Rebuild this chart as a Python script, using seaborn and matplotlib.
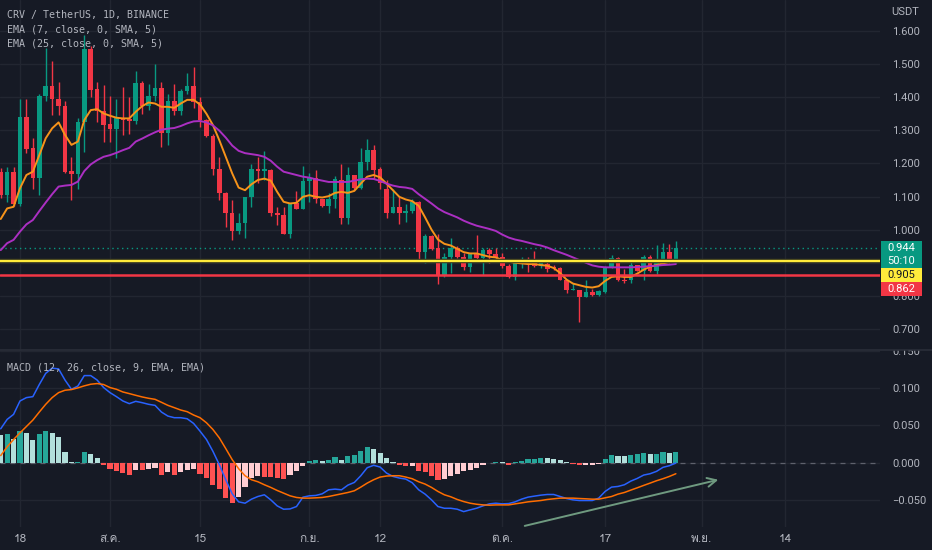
import matplotlib
matplotlib.use('Agg')
import matplotlib.pyplot as plt
from matplotlib import font_manager
from matplotlib.ft2font import FT2Font
from matplotlib.patches import Rectangle
from matplotlib.lines import Line2D
from matplotlib.transforms import IdentityTransform
import numpy as np
import pandas as pd
import seaborn as sns

# ---- data ---------------------------------------------------------------
START = '2022-07-15'

opens = [1.173, 1.106, 1.175, 1.076, 1.341, 1.247, 1.155, 1.404, 1.435, 1.396,
         1.374, 1.177, 1.167, 1.324, 1.547, 1.424, 1.358, 1.318, 1.304, 1.336,
         1.334, 1.328, 1.443, 1.373, 1.404, 1.428, 1.292, 1.389, 1.359, 1.420,
         1.434, 1.386, 1.331, 1.283, 1.182, 1.111, 1.049, 0.996, 1.021, 1.099,
         1.182, 1.177, 1.180, 1.051, 1.045, 0.988, 1.079, 1.061, 1.148, 1.155,
         1.094, 1.072, 1.091, 1.151, 1.036, 1.165, 1.126, 1.205, 1.242, 1.182,
         1.124, 1.051, 1.069, 1.051, 1.057, 1.084, 0.933, 0.980, 0.943, 0.862,
         0.916, 0.943, 0.918, 0.886, 0.928, 0.913, 0.938, 0.926, 0.916, 0.890,
         0.857, 0.898, 0.910, 0.906, 0.890, 0.896, 0.888, 0.883, 0.849, 0.817,
         0.819, 0.797, 0.812, 0.802, 0.812, 0.888, 0.913, 0.849, 0.849, 0.893,
         0.875, 0.918, 0.875, 0.904, 0.933, 0.904]
highs = [1.185, 1.190, 1.190, 1.394, 1.394, 1.277, 1.410, 1.550, 1.509, 1.447,
         1.390, 1.220, 1.336, 1.588, 1.555, 1.447, 1.436, 1.405, 1.395, 1.430,
         1.400, 1.479, 1.450, 1.440, 1.500, 1.445, 1.410, 1.440, 1.425, 1.472,
         1.492, 1.400, 1.333, 1.290, 1.220, 1.115, 1.090, 1.049, 1.099, 1.198,
         1.220, 1.238, 1.182, 1.067, 1.067, 1.079, 1.116, 1.192, 1.170, 1.180,
         1.094, 1.110, 1.161, 1.199, 1.190, 1.165, 1.248, 1.275, 1.255, 1.190,
         1.149, 1.124, 1.098, 1.077, 1.092, 1.086, 0.988, 0.983, 0.987, 0.928,
         0.976, 0.950, 0.930, 0.930, 0.983, 0.945, 0.944, 0.943, 0.928, 0.896,
         0.903, 0.916, 0.916, 0.936, 0.908, 0.910, 0.893, 0.888, 0.849, 0.840,
         0.819, 0.847, 0.820, 0.817, 0.890, 0.923, 0.916, 0.882, 0.906, 0.893,
         0.923, 0.923, 0.953, 0.960, 0.958, 0.967]
lows = [1.095, 1.084, 1.070, 1.070, 1.230, 1.124, 1.104, 1.390, 1.346, 1.346,
        1.170, 1.089, 1.122, 1.235, 1.400, 1.325, 1.265, 1.265, 1.215, 1.285,
        1.290, 1.320, 1.350, 1.360, 1.390, 1.250, 1.256, 1.345, 1.345, 1.410,
        1.366, 1.310, 1.280, 1.165, 1.089, 1.009, 0.968, 0.986, 0.974, 1.067,
        1.140, 1.150, 1.041, 1.015, 0.986, 0.974, 1.061, 1.061, 1.082, 1.079,
        1.069, 1.050, 1.064, 1.018, 1.016, 1.119, 1.124, 1.180, 1.152, 1.124,
        1.034, 1.049, 1.018, 1.022, 1.050, 0.903, 0.900, 0.938, 0.835, 0.857,
        0.868, 0.913, 0.878, 0.872, 0.904, 0.864, 0.898, 0.906, 0.883, 0.855,
        0.847, 0.885, 0.873, 0.888, 0.883, 0.873, 0.878, 0.847, 0.809, 0.817,
        0.720, 0.795, 0.799, 0.799, 0.809, 0.883, 0.845, 0.839, 0.839, 0.874,
        0.849, 0.872, 0.867, 0.900, 0.900, 0.898]
closes = [1.106, 1.175, 1.076, 1.341, 1.245, 1.155, 1.404, 1.435, 1.396, 1.374,
          1.175, 1.167, 1.324, 1.547, 1.421, 1.358, 1.316, 1.304, 1.336, 1.331,
          1.328, 1.443, 1.373, 1.404, 1.428, 1.292, 1.389, 1.359, 1.420, 1.434,
          1.386, 1.331, 1.283, 1.182, 1.111, 1.049, 0.996, 1.021, 1.099, 1.182,
          1.177, 1.182, 1.051, 1.045, 0.988, 1.079, 1.061, 1.148, 1.155, 1.094,
          1.072, 1.091, 1.153, 1.036, 1.165, 1.126, 1.205, 1.242, 1.180, 1.141,
          1.051, 1.069, 1.051, 1.057, 1.084, 0.933, 0.980, 0.940, 0.862, 0.916,
          0.943, 0.918, 0.886, 0.928, 0.913, 0.938, 0.926, 0.916, 0.890, 0.857,
          0.898, 0.910, 0.902, 0.890, 0.898, 0.882, 0.883, 0.849, 0.817, 0.820,
          0.797, 0.812, 0.802, 0.815, 0.888, 0.913, 0.847, 0.845, 0.893, 0.875,
          0.918, 0.875, 0.906, 0.933, 0.904, 0.944]

ema7 = [1.032, 1.064, 1.069, 1.125, 1.165, 1.175, 1.225, 1.276, 1.306, 1.324,
        1.286, 1.256, 1.266, 1.331, 1.361, 1.364, 1.351, 1.344, 1.338, 1.336,
        1.336, 1.356, 1.373, 1.384, 1.381, 1.371, 1.371, 1.368, 1.381, 1.392,
        1.392, 1.378, 1.350, 1.316, 1.270, 1.220, 1.170, 1.127, 1.119, 1.137,
        1.150, 1.154, 1.148, 1.114, 1.084, 1.079, 1.081, 1.099, 1.104, 1.099,
        1.097, 1.101, 1.111, 1.114, 1.111, 1.117, 1.139, 1.160, 1.165, 1.158,
        1.139, 1.119, 1.099, 1.091, 1.086, 1.072, 1.037, 1.000, 0.970, 0.957,
        0.952, 0.942, 0.932, 0.928, 0.928, 0.923, 0.918, 0.916, 0.908, 0.903,
        0.900, 0.898, 0.896, 0.896, 0.893, 0.891, 0.884, 0.869, 0.849, 0.837,
        0.832, 0.827, 0.825, 0.829, 0.845, 0.857, 0.859, 0.857, 0.857, 0.867,
        0.879, 0.888, 0.893, 0.898, 0.902, 0.906]
ema25 = [0.938, 0.959, 0.969, 0.994, 1.016, 1.029, 1.056, 1.082, 1.107, 1.130,
         1.133, 1.135, 1.145, 1.177, 1.197, 1.210, 1.220, 1.225, 1.232, 1.240,
         1.247, 1.266, 1.275, 1.285, 1.294, 1.302, 1.305, 1.307, 1.313, 1.321,
         1.327, 1.328, 1.324, 1.315, 1.299, 1.278, 1.254, 1.238, 1.231, 1.228,
         1.225, 1.220, 1.208, 1.190, 1.175, 1.170, 1.165, 1.160, 1.157, 1.152,
         1.148, 1.144, 1.144, 1.144, 1.144, 1.148, 1.152, 1.154, 1.153, 1.147,
         1.139, 1.133, 1.129, 1.127, 1.123, 1.107, 1.093, 1.079, 1.064, 1.053,
         1.045, 1.037, 1.027, 1.019, 1.012, 1.007, 1.002, 0.996, 0.985, 0.976,
         0.970, 0.966, 0.961, 0.956, 0.952, 0.946, 0.938, 0.931, 0.924, 0.916,
         0.908, 0.900, 0.892, 0.888, 0.886, 0.886, 0.886, 0.886, 0.886, 0.887,
         0.888, 0.890, 0.891, 0.893, 0.894, 0.896]

macd = [0.0455, 0.0581, 0.0649, 0.0829, 0.0874, 0.0887, 0.1050, 0.1200, 0.1270, 0.1260,
        0.1110, 0.0986, 0.1030, 0.1170, 0.1170, 0.1110, 0.1010, 0.0941, 0.0887, 0.0829,
        0.0793, 0.0824, 0.0806, 0.0784, 0.0770, 0.0680, 0.0626, 0.0604, 0.0604, 0.0590,
        0.0527, 0.0423, 0.0311, 0.0153, -0.0027, -0.0230, -0.0419, -0.0527, -0.0545, -0.0491,
        -0.0455, -0.0432, -0.0500, -0.0581, -0.0626, -0.0622, -0.0590, -0.0464, -0.0446, -0.0441,
        -0.0419, -0.0365, -0.0356, -0.0365, -0.0302, -0.0266, -0.0176, -0.0068, -0.0036, -0.0059,
        -0.0140, -0.0185, -0.0207, -0.0221, -0.0270, -0.0365, -0.0423, -0.0500, -0.0590, -0.0613,
        -0.0613, -0.0626, -0.0658, -0.0635, -0.0613, -0.0581, -0.0554, -0.0545, -0.0554, -0.0550,
        -0.0527, -0.0491, -0.0464, -0.0450, -0.0437, -0.0428, -0.0428, -0.0455, -0.0482, -0.0500,
        -0.0509, -0.0509, -0.0509, -0.0477, -0.0387, -0.0329, -0.0320, -0.0297, -0.0248, -0.0212,
        -0.0167, -0.0149, -0.0117, -0.0063, -0.0041, -0.0005]
signal = [0.0095, 0.0212, 0.0311, 0.0401, 0.0486, 0.0572, 0.0680, 0.0784, 0.0874, 0.0941,
          0.0973, 0.0982, 0.1005, 0.1032, 0.1054, 0.1063, 0.1050, 0.1009, 0.0986, 0.0950,
          0.0928, 0.0905, 0.0883, 0.0865, 0.0851, 0.0811, 0.0770, 0.0739, 0.0707, 0.0685,
          0.0640, 0.0604, 0.0536, 0.0446, 0.0333, 0.0189, 0.0041, -0.0081, -0.0176, -0.0230,
          -0.0257, -0.0297, -0.0333, -0.0374, -0.0410, -0.0446, -0.0468, -0.0477, -0.0477, -0.0473,
          -0.0468, -0.0455, -0.0437, -0.0419, -0.0401, -0.0378, -0.0329, -0.0275, -0.0230, -0.0194,
          -0.0180, -0.0176, -0.0176, -0.0194, -0.0216, -0.0257, -0.0288, -0.0333, -0.0387, -0.0432,
          -0.0459, -0.0495, -0.0523, -0.0545, -0.0559, -0.0568, -0.0572, -0.0568, -0.0568, -0.0568,
          -0.0554, -0.0541, -0.0527, -0.0518, -0.0509, -0.0495, -0.0486, -0.0477, -0.0477, -0.0477,
          -0.0482, -0.0486, -0.0491, -0.0491, -0.0473, -0.0455, -0.0423, -0.0401, -0.0369, -0.0338,
          -0.0306, -0.0275, -0.0243, -0.0216, -0.0185, -0.0149]
hist = [0.0365, 0.0387, 0.0320, 0.0419, 0.0401, 0.0302, 0.0387, 0.0428, 0.0401, 0.0338,
        0.0149, 0.0009, 0.0014, 0.0149, 0.0122, 0.0063, -0.0027, -0.0086, -0.0117, -0.0140,
        -0.0162, -0.0095, -0.0104, -0.0086, -0.0072, -0.0162, -0.0130, -0.0162, -0.0130, -0.0095,
        -0.0086, -0.0149, -0.0207, -0.0297, -0.0356, -0.0477, -0.0545, -0.0460, -0.0330, -0.0210,
        -0.0180, -0.0190, -0.0194, -0.0207, -0.0221, -0.0162, -0.0117, -0.0050, 0.0027, 0.0030,
        0.0023, 0.0032, 0.0077, 0.0040, 0.0095, 0.0097, 0.0153, 0.0207, 0.0185, 0.0131,
        0.0059, 0.0014, -0.0027, -0.0050, -0.0040, -0.0113, -0.0131, -0.0176, -0.0230, -0.0221,
        -0.0185, -0.0149, -0.0117, -0.0095, -0.0072, -0.0027, -0.0005, 0.0014, 0.0005, -0.0027,
        0.0009, 0.0027, 0.0050, 0.0052, 0.0063, 0.0059, 0.0054, 0.0032, 0.0005, -0.0014,
        -0.0032, -0.0030, -0.0027, -0.0014, 0.0050, 0.0104, 0.0095, 0.0090, 0.0108, 0.0110,
        0.0130, 0.0117, 0.0122, 0.0140, 0.0130, 0.0144]

support_level = 0.862
resist_level = 0.905
countdown = '50:10'

tick_dates = ['2022-07-18', '2022-08-01', '2022-08-15', '2022-09-01', '2022-09-12',
              '2022-10-01', '2022-10-17', '2022-11-01', '2022-11-14']
tick_labels = ['18', 'ส.ค.', '15', 'ก.ย.', '12', 'ต.ค.', '17', 'พ.ย.', '14']
price_ticks = [0.7, 0.8, 0.9, 1.0, 1.1, 1.2, 1.3, 1.4, 1.5, 1.6]
macd_ticks = [-0.05, 0.0, 0.05, 0.10, 0.15]

# ---- style ---------------------------------------------------------------
BG = '#161a25'
GRID = '#222631'
TXT = '#b2b5be'
UP = '#089981'
DOWN = '#f23645'
W, H = 932, 550


def thai_font():
    for f in font_manager.fontManager.ttflist:
        try:
            if 0x0E2A in FT2Font(f.fname).get_charmap():
                return f.name
        except Exception:
            pass
    return None


sns.set_theme(style='dark', rc={'axes.facecolor': BG, 'figure.facecolor': BG,
                                'savefig.facecolor': BG, 'grid.color': GRID})
plt.rcParams['font.family'] = ['Roboto', 'DejaVu Sans']
th = thai_font()
date_family = ([th] if th else []) + ['DejaVu Sans Mono']
mono = 'DejaVu Sans Mono'

df = pd.DataFrame({'open': opens, 'high': highs, 'low': lows, 'close': closes,
                   'ema7': ema7, 'ema25': ema25,
                   'macd': macd, 'signal': signal, 'hist': hist})
t0 = pd.Timestamp(START)
df['day'] = np.arange(len(df))
tick_days = [(pd.Timestamp(t) - t0).days for t in tick_dates]

fig = plt.figure(figsize=(W / 100, H / 100), dpi=100)
ax = fig.add_axes([0, 200 / H, 880 / W, 350 / H])
ax2 = fig.add_axes([0, 23 / H, 880 / W, 177 / H])

for a in (ax, ax2):
    a.set_facecolor(BG)
    for s in a.spines.values():
        s.set_visible(False)
    a.set_xlim(-0.11, 136.75)
    a.set_xticks(tick_days)
    a.grid(True, color=GRID, lw=1)
    a.set_axisbelow(True)
    a.yaxis.tick_right()
    a.tick_params(length=0, colors=TXT, labelsize=8)

# ---- price pane ------------------------------------------------------------
ax.set_ylim(0.6363, 1.6937)
up = df['close'] >= df['open']
cols = np.where(up, UP, DOWN)
ax.vlines(df['day'], df['low'], df['high'], colors=cols, lw=1, zorder=2)
body = (df['close'] - df['open']).abs().clip(lower=0.003)
ax.bar(df['day'], body, bottom=df[['open', 'close']].min(axis=1),
       width=0.72, color=cols, linewidth=0, zorder=3)

sns.lineplot(data=df, x='day', y='ema7', ax=ax, color='#f7931a', lw=1.4, zorder=4)
sns.lineplot(data=df, x='day', y='ema25', ax=ax, color='#ab2fc2', lw=1.4, zorder=4)

last = df['close'].iloc[-1]
ax.axhline(last, color=UP, lw=1, ls=(0, (1, 2.5)), zorder=1)
ax.axhline(resist_level, color='#3a3a1e', lw=3.2, zorder=4)
ax.axhline(resist_level, color='#ffeb3b', lw=1.6, zorder=5)
ax.axhline(support_level, color=DOWN, lw=1.8, zorder=5)

# the 0.900 label sits fully under the last-price tag, so it is left blank
ax.set_yticks(price_ticks)
ax.set_yticklabels(['' if abs(v - 0.9) < 1e-9 else f'{v:.3f}' for v in price_ticks])
ax.tick_params(axis='y', pad=9)
ax.set_xticklabels([])
ax.set_xlabel('')
ax.set_ylabel('')

# ---- MACD pane ---------------------------------------------------------------
ax2.set_ylim(-0.0865, 0.1514)
prev = np.r_[df['hist'].iloc[0] + 1, df['hist'].values[:-1]]
h = df['hist'].values
hcols = np.where(h >= 0, np.where(h > prev, '#26a69a', '#b2dfdb'),
                 np.where(h < prev, '#ff5252', '#ffcdd2'))
ax2.axhline(0, color='#787b86', lw=0.9, ls=(0, (4, 4)), alpha=0.7, zorder=1)
ax2.bar(df['day'], h, width=0.8, color=hcols, linewidth=0, zorder=2)
sns.lineplot(data=df, x='day', y='macd', ax=ax2, color='#2962ff', lw=1.1, zorder=3)
sns.lineplot(data=df, x='day', y='signal', ax=ax2, color='#ff6d00', lw=1.1, zorder=3)

ax2.annotate('', xy=(111.6, -0.023), xytext=(81.5, -0.085), annotation_clip=False,
             arrowprops=dict(arrowstyle='->', color='#6f9a80', lw=1.4,
                             mutation_scale=16, shrinkA=0, shrinkB=0), zorder=6)

ax2.set_yticks(macd_ticks)
ax2.set_yticklabels([f'{v:.3f}'.replace('-', '\u2212') for v in macd_ticks])
ax2.tick_params(axis='y', pad=9)
ax2.set_xticklabels(tick_labels, family=date_family, fontsize=8.5)
ax2.tick_params(axis='x', pad=5)
ax2.set_xlabel('')
ax2.set_ylabel('')

# ---- overlays in pixel space ------------------------------------------------
fig.add_artist(Rectangle((880, 200), 52, 9, transform=IdentityTransform(),
                         facecolor=BG, edgecolor='none', zorder=8))
fig.add_artist(Line2D([0, 1], [200.5 / H, 200.5 / H], color='#2a2e39', lw=1.2,
                      transform=fig.transFigure, zorder=9))


def ypix(a, v):
    return a.transData.transform((0, v))[1]


# price tags on the scale (stacked so they do not overlap)
boxes = [(last, UP, 'white', 27, [f'{last:.3f}', countdown]),
         (resist_level, '#ffeb3b', '#131722', 14, [f'{resist_level:.3f}']),
         (support_level, DOWN, 'white', 14, [f'{support_level:.3f}'])]
top = None
for val, fc, tc, hgt, lines in boxes:
    yt = ypix(ax, val) + 7
    if top is not None:
        yt = min(yt, top)
    fig.add_artist(Rectangle((881, yt - hgt), 41, hgt, transform=IdentityTransform(),
                             facecolor=fc, edgecolor='none', zorder=10))
    for i, s in enumerate(lines):
        fig.text(901.5 / W, (yt - 7 - 13 * i) / H, s, color=tc, fontsize=8,
                 ha='center', va='center', zorder=11)
    top = yt - hgt

fig.text(905 / W, 1 - 12 / H, 'USDT', color=TXT, fontsize=8, ha='center', va='center')
legend_lines = ['CRV / TetherUS, 1D, BINANCE', 'EMA (7, close, 0, SMA, 5)',
                'EMA (25, close, 0, SMA, 5)']
for i, s in enumerate(legend_lines):
    fig.text(7 / W, 1 - (15 + 14 * i) / H, s, color=TXT, fontsize=7.2,
             family=mono, va='center')
fig.text(7 / W, 1 - 367 / H, 'MACD (12, 26, close, 9, EMA, EMA)', color=TXT,
         fontsize=7.2, family=mono, va='center')

fig.savefig('out.png', dpi=100, facecolor=BG)
plt.close(fig)
